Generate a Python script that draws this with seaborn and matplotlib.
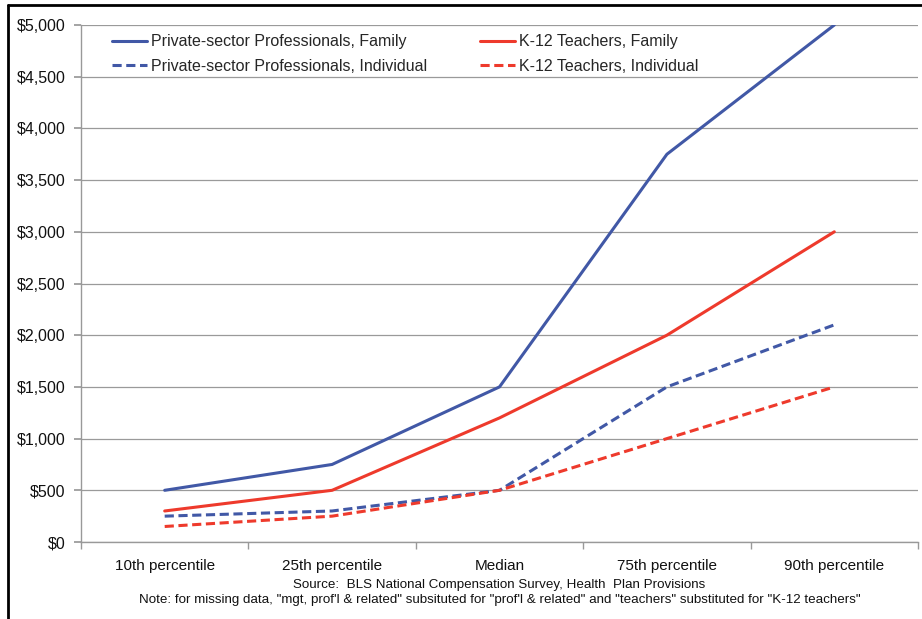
import numpy as np
import pandas as pd
import matplotlib
matplotlib.use("Agg")
import matplotlib.pyplot as plt
import seaborn as sns
from matplotlib.ticker import FuncFormatter, FixedLocator, NullFormatter
from matplotlib.lines import Line2D

# data
categories = ["10th percentile", "25th percentile", "Median", "75th percentile", "90th percentile"]
private_family = [500, 750, 1500, 3750, 5000]
teacher_family = [300, 500, 1200, 2000, 3000]
private_indiv = [250, 300, 500, 1500, 2100]
teacher_indiv = [150, 250, 500, 1000, 1500]

series_names = [
    "Private-sector Professionals, Family",
    "K-12 Teachers, Family",
    "Private-sector Professionals, Individual",
    "K-12 Teachers, Individual",
]
series_values = [private_family, teacher_family, private_indiv, teacher_indiv]

rows = []
for name, vals in zip(series_names, series_values):
    for i, (c, v) in enumerate(zip(categories, vals)):
        rows.append({"series": name, "pos": i, "category": c, "value": v})
df = pd.DataFrame(rows)

sns.set_theme(style="white")
plt.rcParams["font.family"] = ["Liberation Sans", "DejaVu Sans"]

BLUE = "#4158A6"
RED = "#EE3A2C"
palette = {series_names[0]: BLUE, series_names[1]: RED,
           series_names[2]: BLUE, series_names[3]: RED}
dashes = {series_names[0]: "", series_names[1]: "",
          series_names[2]: (3, 1.5), series_names[3]: (3, 1.5)}

fig = plt.figure(figsize=(9.22, 6.19), dpi=100)
ax = fig.add_axes([81 / 922, 77 / 619, 837 / 922, 517 / 619])

sns.lineplot(data=df, x="pos", y="value", hue="series", style="series",
             palette=palette, dashes=dashes, linewidth=2.2, legend=False, ax=ax)

ax.set_xlim(-0.5, len(categories) - 0.5)
ax.set_ylim(0, 5000)
ax.set_yticks(np.arange(0, 5001, 500))
ax.yaxis.set_major_formatter(FuncFormatter(lambda v, p: f"${v:,.0f}"))
ax.set_xticks(range(len(categories)))
ax.set_xticklabels(categories)
ax.xaxis.set_minor_locator(FixedLocator(np.arange(-0.5, len(categories), 1.0)))
ax.xaxis.set_minor_formatter(NullFormatter())
ax.tick_params(axis="x", which="major", length=0, pad=12, labelsize=11, colors="#111111")
ax.tick_params(axis="x", which="minor", length=5, color="#999999", direction="out", bottom=True)
ax.tick_params(axis="y", length=5, color="#999999", direction="out", left=True,
               labelsize=11.5, colors="#111111", pad=6)
ax.set_xlabel("")
ax.set_ylabel("")
ax.grid(axis="y", color="#9a9a9a", linewidth=0.9)
ax.set_axisbelow(True)
for s in ["top", "right"]:
    ax.spines[s].set_visible(False)
for s in ["left", "bottom"]:
    ax.spines[s].set_color("#999999")
    ax.spines[s].set_linewidth(1.0)

handles = [
    Line2D([], [], color=BLUE, lw=2.2),
    Line2D([], [], color=BLUE, lw=2.2, dashes=(3, 1.5)),
    Line2D([], [], color=RED, lw=2.2),
    Line2D([], [], color=RED, lw=2.2, dashes=(3, 1.5)),
]
labels = [series_names[0], series_names[2], series_names[1], series_names[3]]
ax.legend(handles, labels, ncol=2, frameon=False, loc="upper left",
          bbox_to_anchor=(0.02, 1.01), fontsize=11.5, handlelength=2.2,
          handletextpad=0.25, columnspacing=3.3, labelspacing=0.6)

xc = (81 + 837 / 2) / 922
fig.text(xc, 34 / 619, "Source:  BLS National Compensation Survey, Health  Plan Provisions",
         ha="center", va="center", fontsize=9.6, color="#111111")
fig.text(xc, 19 / 619,
         "Note: for missing data, \"mgt, prof'l & related\" subsituted for \"prof'l & related\" and \"teachers\" substituted for \"K-12 teachers\"",
         ha="center", va="center", fontsize=9.6, color="#111111")

# outer frame of the original screenshot
fig.add_artist(Line2D([8 / 922, 8 / 922], [0, 1 - 5 / 619], transform=fig.transFigure,
                      color="black", lw=2))
fig.add_artist(Line2D([8 / 922, 1], [1 - 5 / 619, 1 - 5 / 619], transform=fig.transFigure,
                      color="black", lw=2))

fig.savefig("out.png", dpi=100)
